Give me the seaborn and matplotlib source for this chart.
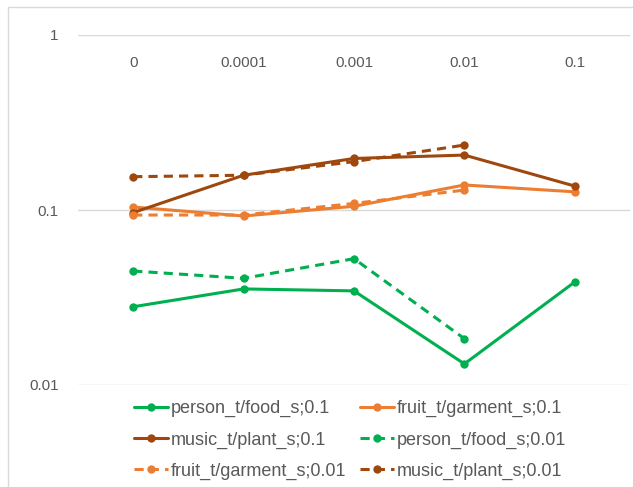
import numpy as np
import pandas as pd
import matplotlib
matplotlib.use("Agg")
import matplotlib.pyplot as plt
from matplotlib.patches import Rectangle
import seaborn as sns

### Data
categories = ["0", "0.0001", "0.001", "0.01", "0.1"]

person_01 = [0.0280, 0.0354, 0.0345, 0.0132, 0.0388]
fruit_01 = [0.104, 0.0924, 0.105, 0.139, 0.127]
music_01 = [0.0966, 0.158, 0.197, 0.206, 0.137]
person_001 = [0.0448, 0.0407, 0.0527, 0.0184, np.nan]
fruit_001 = [0.0936, 0.0936, 0.109, 0.130, np.nan]
music_001 = [0.155, 0.158, 0.189, 0.235, np.nan]

series_names = ["person_t/food_s;0.1", "fruit_t/garment_s;0.1", "music_t/plant_s;0.1",
                "person_t/food_s;0.01", "fruit_t/garment_s;0.01", "music_t/plant_s;0.01"]
series_vals = [person_01, fruit_01, music_01, person_001, fruit_001, music_001]

GREEN, ORANGE, BROWN = "#00B050", "#ED7D31", "#9E480E"
palette = dict(zip(series_names, [GREEN, ORANGE, BROWN, GREEN, ORANGE, BROWN]))
dashes = dict(zip(series_names, ["", "", "", (3, 2), (3, 2), (3, 2)]))
markers = {s: "o" for s in series_names}

rows = []
for name, vals in zip(series_names, series_vals):
    for i, v in enumerate(vals):
        if not np.isnan(v):
            rows.append({"pos": i, "value": v, "series": name})
df = pd.DataFrame(rows)

### Plot
sns.set_style("white")
plt.rcParams["font.family"] = ["Liberation Sans", "DejaVu Sans"]
TXT = "#595959"

fig = plt.figure(figsize=(6.33, 4.87), dpi=100)
ax = fig.add_axes([78 / 633, 1 - 385 / 487, (630 - 78) / 633, (385 - 35) / 487])

sns.lineplot(data=df, x="pos", y="value", hue="series", style="series",
             hue_order=series_names, style_order=series_names,
             palette=palette, dashes=dashes, markers=markers,
             linewidth=2.2, markersize=6, markeredgewidth=0, ax=ax)

ax.set_yscale("log")
ax.set_ylim(0.01, 1)
ax.set_xlim(-0.5, len(categories) - 0.5)
ax.set_yticks([0.01, 0.1, 1])
ax.set_yticklabels(["0.01", "0.1", "1"])
ax.yaxis.set_minor_locator(matplotlib.ticker.NullLocator())
ax.grid(axis="y", color="#d9d9d9", linewidth=1)
ax.grid(axis="x", visible=False)
for sp in ax.spines.values():
    sp.set_visible(False)

ax.set_xticks(range(len(categories)))
ax.set_xticklabels(categories)
ax.xaxis.tick_top()
ax.tick_params(axis="x", length=0, pad=-25, labelsize=11, labelcolor=TXT)
ax.tick_params(axis="y", length=0, pad=14, labelsize=11, labelcolor=TXT)
ax.set_xlabel(""); ax.set_ylabel("")

# legend (row-major order as in the chart)
handles, labels = ax.get_legend_handles_labels()
ax.get_legend().remove()
lut = dict(zip(labels, handles))
order = [series_names[i] for i in [0, 2, 4, 1, 3, 5]]
leg = fig.legend([lut[l] for l in order], order, loc="upper center",
                 bbox_to_anchor=(350 / 633, 1 - 384 / 487), ncol=2, frameon=False,
                 fontsize=13, handlelength=1.85, handletextpad=0.15,
                 columnspacing=0.8, labelspacing=0.78)
for t in leg.get_texts():
    t.set_color(TXT)

# outer chart border
fig.patches.append(Rectangle((8 / 633, -0.01), 1.0, 1 - 7 / 487 + 0.01,
                             transform=fig.transFigure, fill=False,
                             edgecolor="#d9d9d9", linewidth=1))

plt.savefig("out.png", dpi=100)
